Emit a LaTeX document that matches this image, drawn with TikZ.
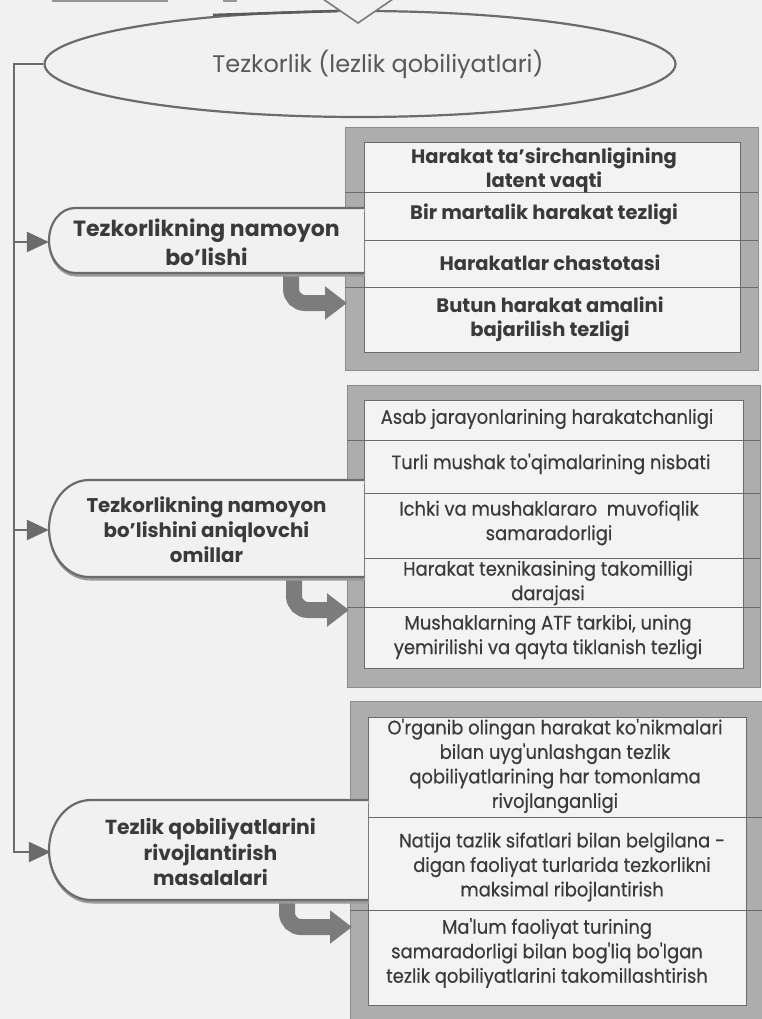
\documentclass[tikz,border=0pt]{standalone}
\usepackage{fontspec}
\setmainfont{Poppins}
\newfontfamily\condfont[FakeStretch=0.92,FakeBold=0.4]{Poppins}
\usetikzlibrary{shapes.geometric,arrows.meta}
\pgfdeclarelayer{back}
\pgfdeclarelayer{shapes}
\pgfsetlayers{back,shapes,main}
\definecolor{bgc}{HTML}{F1F1F1}
\definecolor{linec}{HTML}{6B6B6B}
\definecolor{framec}{HTML}{ADADAD}
\definecolor{framedark}{HTML}{8C8C8C}
\definecolor{innerc}{HTML}{F3F3F3}
\definecolor{txt}{HTML}{3A3A3A}
\definecolor{txtl}{HTML}{585858}
\definecolor{arrowc}{HTML}{7C7C7C}
\definecolor{shadowc}{HTML}{9A9A9A}
\newcommand\leftround[5]{% left, top, right, bottom, rx
  (#3,#2) -- ({#1+#5},#2) arc[start angle=90, end angle=270, x radius=#5pt, y radius={(#4-#2)/2*1pt}] -- (#3,#4)}
\begin{document}
\begin{tikzpicture}[x=1pt,y=-1pt,
  conn/.style={draw=linec, line width=2.4pt},
  tip/.style={-{Triangle[length=22pt,width=20pt]}},
  frame/.style={draw=framedark, fill=framec, line width=1pt, inner sep=0pt},
  innerbox/.style={draw=linec, fill=innerc, line width=1pt},
  rowline/.style={draw=linec, line width=1pt},
  bent/.style={draw=arrowc, line width=16pt, rounded corners=14pt, -{Triangle[length=22pt,width=32pt]}},
  shapefill/.style={fill=bgc, draw=linec, line width=2.2pt},
  shapeshadow/.style={draw=shadowc, line width=3pt},
  headtext/.style={text=txt, inner sep=0pt, align=center, font=\bfseries\fontsize{22}{29}\selectfont},
  headtextb/.style={text=txt, inner sep=0pt, align=center, font=\bfseries\fontsize{19.8}{25}\selectfont},
  headtextc/.style={text=txt, inner sep=0pt, align=center, font=\bfseries\fontsize{20.3}{25.5}\selectfont},
  rowtexta/.style={text=txt, align=center, font=\bfseries\fontsize{19.5}{24}\selectfont},
  rowtextb/.style={text=txt, align=center, font=\condfont\fontsize{19.5}{24.5}\selectfont},
]
\begin{pgfonlayer}{back}
\fill[bgc] (0,0) rectangle (762,1019);
\end{pgfonlayer}
\useasboundingbox (0,0) rectangle (762,1019);

% top artefacts
\draw[draw=linec!70, line width=1.5pt] (52,1) -- (168,1) (223,1) -- (237,1);

% ellipse
\node[ellipse, draw=linec, fill=bgc, line width=2.2pt, minimum width=631pt, minimum height=106pt,
      text=txtl, font=\fontsize{24}{28}\selectfont] (top) at (360,64) {\hspace*{36pt}Tezkorlik (lezlik qobiliyatlari)};
\draw[draw=linec!85!black, line width=2.6pt] (213,15) -- (337,11);
\draw[draw=linec!90, fill=bgc, line width=1.6pt] (323,-1) -- (358,23) -- (393,-1);

% frames
\begin{pgfonlayer}{back}
\node[frame, minimum width=413pt, minimum height=242pt] (f1) at (551.5,249) {};
\draw[innerbox] (364,143) rectangle (740,352);
\draw[rowline] (345,192) -- (758,192) (345,240) -- (758,240) (345,287) -- (758,287);

\node[frame, minimum width=413pt, minimum height=302pt] (f2) at (553.5,536) {};
\draw[innerbox] (364,400) rectangle (743,668);
\draw[rowline] (347,440) -- (760,440) (347,493) -- (760,493) (347,558) -- (760,558) (347,607) -- (760,607);

\node[frame, minimum width=412pt, minimum height=318pt] (f3) at (556,860) {};
\draw[innerbox] (368,717) rectangle (746,1005);
\draw[rowline] (350,817) -- (762,817) (350,910) -- (762,910);

% bent arrows
\coordinate (a1s) at (291,270);
\coordinate (a1e) at (347,303);
\coordinate (a2s) at (294,570);
\coordinate (a2e) at (349,610);
\coordinate (a3s) at (287,893);
\coordinate (a3e) at (352,927);
\draw[bent] (a1s) |- (a1e);
\draw[bent] (a2s) |- (a2e);
\draw[bent] (a3s) |- (a3e);
\end{pgfonlayer}

% row texts
\node[rowtexta] (r11) at (544,170) {Harakat ta'sirchanligining\\latent vaqti};
\node[rowtexta] (r12) at (544,214) {Bir martalik harakat tezligi};
\node[rowtexta] (r13) at (550,263) {Harakatlar chastotasi};
\node[rowtexta] (r14) at (550,319) {Butun harakat amalini\\bajarilish tezligi};

\node[rowtextb] (r21) at (547,419) {Asab jarayonlarining harakatchanligi};
\node[rowtextb] (r22) at (551,464) {Turli mushak to'qimalarining nisbati};
\node[rowtextb] (r23) at (549,523) {Ichki va mushaklararo \ muvofiqlik\\samaradorligi};
\node[rowtextb] (r24) at (548,583) {Harakat texnikasining takomilligi\\darajasi};
\node[rowtextb] (r25) at (548,637) {Mushaklarning ATF tarkibi, uning\\yemirilishi va qayta tiklanish tezligi};

\node[rowtextb] (r31) at (555,766) {O'rganib olingan harakat ko'nikmalari\\bilan uyg'unlashgan tezlik\\qobiliyatlarining har tomonlama\\rivojlanganligi};
\node[rowtextb] (r32) at (562,867) {Natija tazlik sifatlari bilan belgilana -\\digan faoliyat turlarida tezkorlikni\\maksimal ribojlantirish};
\node[rowtextb] (r33) at (547,953) {Ma'lum faoliyat turining\\samaradorligi bilan bog'liq bo'lgan\\tezlik qobiliyatlarini takomillashtirish};

% left rounded nodes
\begin{pgfonlayer}{shapes}
\begin{scope}[xshift=1pt,yshift=-2pt]
\draw[shapeshadow] \leftround{49}{208}{364}{273}{26};
\draw[shapeshadow] \leftround{49}{480}{364}{577}{40};
\draw[shapeshadow] \leftround{49}{800}{368}{900}{42};
\end{scope}
\path[shapefill] \leftround{49}{208}{364}{273}{26};
\path[shapefill] \leftround{49}{480}{364}{577}{40};
\path[shapefill] \leftround{49}{800}{368}{900}{42};
\end{pgfonlayer}
\node[headtext, minimum width=315pt, minimum height=65pt] (n1) at (206.5,242) {Tezkorlikning namoyon\\bo'lishi};
\node[headtextb, minimum width=315pt, minimum height=97pt] (n2) at (206.5,530) {Tezkorlikning namoyon\\bo'lishini aniqlovchi\\omillar};
\node[headtextc, minimum width=319pt, minimum height=100pt] (n3) at (210.5,852) {Tezlik qobiliyatlarini\\rivojlantirish\\masalalari};

% trunk connectors
\coordinate (tk) at (14,852);
\draw[conn, tip] (top.west) -| (tk) -- (n3.west);
\draw[conn, tip] (n1.west -| tk) -- (n1.west);
\draw[conn, tip] (n2.west -| tk) -- (n2.west);
\end{tikzpicture}
\end{document}
